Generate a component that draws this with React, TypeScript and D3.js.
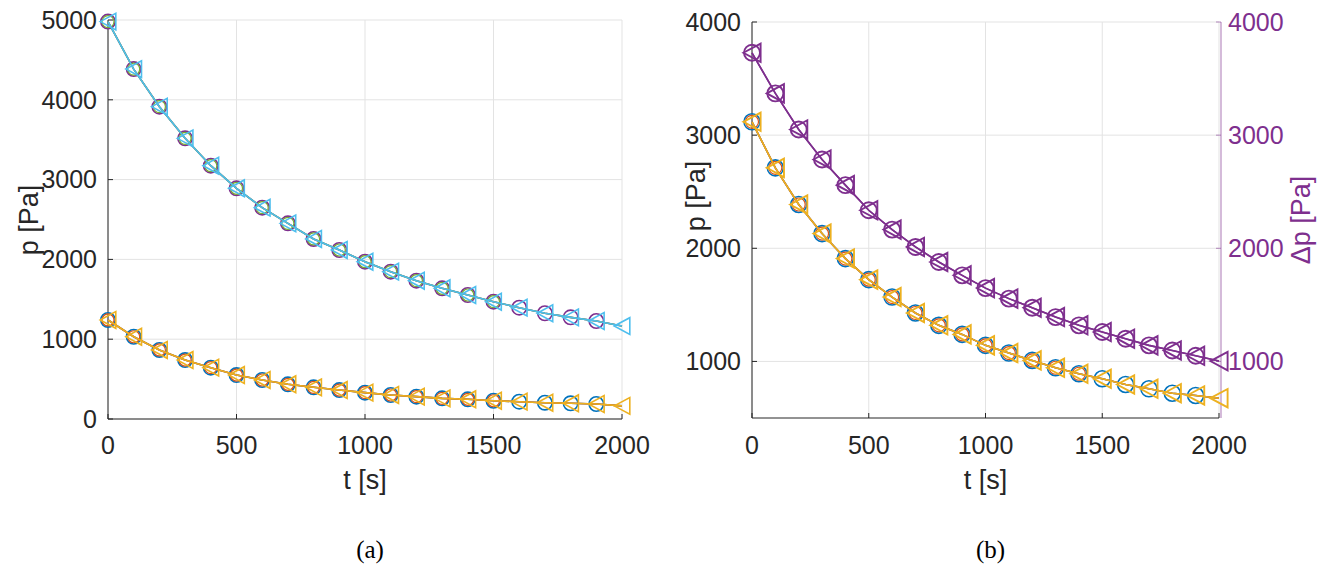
import React from "react";
import * as d3 from "d3";

// ---- data ----
const tTri = [0, 100, 200, 300, 400, 500, 600, 700, 800, 900, 1000, 1100, 1200, 1300, 1400, 1500, 1600, 1700, 1800, 1900, 2000];

// panel (a) upper group
const aUpper = [4980, 4385, 3914, 3517, 3174, 2891, 2648, 2452, 2256, 2118, 1971, 1846, 1733, 1638, 1554, 1470, 1395, 1325, 1274, 1228, 1165];
// panel (a) lower group
const aLower = [1241, 1031, 865, 739, 643, 551, 489, 435, 397, 363, 330, 301, 280, 259, 247, 229, 217, 204, 197, 188, 165];
// panel (b) purple (Δp)
const bDelta = [3728, 3369, 3050, 2785, 2558, 2336, 2165, 2012, 1879, 1761, 1648, 1555, 1475, 1392, 1319, 1260, 1201, 1142, 1097, 1050, 1003];
// panel (b) yellow (p)
const bP = [3118, 2711, 2387, 2130, 1909, 1723, 1569, 1428, 1319, 1239, 1142, 1074, 1009, 944, 891, 847, 796, 758, 719, 699, 675];

const xTicks = [0, 500, 1000, 1500, 2000];
const aYTicks = [0, 1000, 2000, 3000, 4000, 5000];
const bYTicks = [1000, 2000, 3000, 4000];
const captions = ["(a)", "(b)"];

const C = {
  blue: "#0072BD",
  orange: "#D95319",
  yellow: "#EDB120",
  purple: "#7E2F8E",
  green: "#77AC30",
  cyan: "#4DBEEE",
  axis: "#262626",
  grid: "#e3e3e3",
};

const FONT = "Liberation Sans, Arial, Helvetica, sans-serif";

function triPath(x: number, y: number, s: number) {
  return `M${x - s},${y} L${x + s},${y - s * 1.07} L${x + s},${y + s * 1.07} Z`;
}

type Series = {
  vals: number[];
  color: string;
  marker: "circle" | "tri";
  upTo?: number;
  r?: number;
  sw?: number;
};

function drawSeries(s: Series, x: d3.ScaleLinear<number, number>, y: d3.ScaleLinear<number, number>, key: string, ms: number) {
  const pts = tTri.map((t, i) => [t, s.vals[i]] as [number, number]);
  const line = d3.line<[number, number]>().x((d) => x(d[0])).y((d) => y(d[1]));
  const mPts = pts.filter((p) => p[0] <= (s.upTo ?? 2000));
  const sw = s.sw ?? 1.6;
  return (
    <g key={key}>
      <path d={line(pts) || ""} fill="none" stroke={s.color} strokeWidth={1.6} />
      {s.marker === "circle" &&
        mPts.map((p, i) => (
          <circle key={i} cx={x(p[0])} cy={y(p[1])} r={s.r ?? ms} fill="none" stroke={s.color} strokeWidth={sw} />
        ))}
      {s.marker === "tri" &&
        mPts.map((p, i) => (
          <path key={i} d={triPath(x(p[0]), y(p[1]), ms + 0.6)} fill="none" stroke={s.color} strokeWidth={sw} />
        ))}
    </g>
  );
}

function Panel(props: {
  x: d3.ScaleLinear<number, number>;
  y: d3.ScaleLinear<number, number>;
  yTicks: number[];
  series: Series[];
  ylabelX: number;
  ylabelY: number;
  caption: string;
  ms: number;
  rightAxis?: { ticks: number[]; color: string; label: string; labelX: number };
}) {
  const { x, y, yTicks, series } = props;
  const [x0, x1] = x.range();
  const [yb, yt] = y.range();
  const ymid = (yb + yt) / 2;
  const xmid = (x0 + x1) / 2;
  return (
    <g>
      {xTicks.map((t) => (
        <line key={"gx" + t} x1={x(t)} x2={x(t)} y1={yb} y2={yt} stroke={C.grid} strokeWidth={1} />
      ))}
      {yTicks.map((t) => (
        <line key={"gy" + t} x1={x0} x2={x1} y1={y(t)} y2={y(t)} stroke={C.grid} strokeWidth={1} />
      ))}
      <line x1={x0} x2={x1} y1={yb} y2={yb} stroke={C.axis} strokeWidth={1} />
      <line x1={x0} x2={x0} y1={yb} y2={yt} stroke={C.axis} strokeWidth={1} />
      {xTicks.map((t) => (
        <line key={"tx" + t} x1={x(t)} x2={x(t)} y1={yb} y2={yb - 5} stroke={C.axis} strokeWidth={1} />
      ))}
      {yTicks.map((t) => (
        <line key={"ty" + t} x1={x0} x2={x0 + 5} y1={y(t)} y2={y(t)} stroke={C.axis} strokeWidth={1} />
      ))}
      {props.rightAxis && (
        <g>
          <line x1={x1 + 2} x2={x1 + 2} y1={yb} y2={yt} stroke={props.rightAxis.color} strokeOpacity={0.55} strokeWidth={1.2} />
          {props.rightAxis.ticks.map((t) => (
            <line key={"rt" + t} x1={x1 + 2} x2={x1 - 3} y1={y(t)} y2={y(t)} stroke={props.rightAxis!.color} strokeOpacity={0.55} strokeWidth={1} />
          ))}
          {props.rightAxis.ticks.map((t) => (
            <text key={"rl" + t} x={x1 + 9} y={y(t)} dy="0.35em" fontSize={25} fontFamily={FONT} fill={props.rightAxis!.color} textAnchor="start">
              {t}
            </text>
          ))}
          <text
            transform={`translate(${props.rightAxis.labelX},${ymid}) rotate(-90)`}
            fontSize={27}
            fontFamily={FONT}
            fill={props.rightAxis.color}
            textAnchor="middle"
          >
            {props.rightAxis.label}
          </text>
        </g>
      )}
      {xTicks.map((t) => (
        <text key={"lx" + t} x={x(t)} y={454} fontSize={25} fontFamily={FONT} fill={C.axis} textAnchor="middle">
          {t}
        </text>
      ))}
      {yTicks.map((t) => (
        <text key={"ly" + t} x={x0 - 11} y={y(t)} dy="0.35em" fontSize={25} fontFamily={FONT} fill={C.axis} textAnchor="end">
          {t}
        </text>
      ))}
      <text x={xmid} y={489} fontSize={27} fontFamily={FONT} fill={C.axis} textAnchor="middle">
        t [s]
      </text>
      <text transform={`translate(${props.ylabelX},${props.ylabelY}) rotate(-90)`} fontSize={27} fontFamily={FONT} fill={C.axis} textAnchor="middle">
        p [Pa]
      </text>
      <text x={xmid + 5} y={558} fontSize={25} fontFamily="Liberation Serif, Times New Roman, serif" fill="#000" textAnchor="middle">
        {props.caption}
      </text>
      <g>{series.map((s, i) => drawSeries(s, x, y, "s" + i, props.ms))}</g>
    </g>
  );
}

export default function App() {
  const xa = d3.scaleLinear().domain([0, 2000]).range([108, 622]);
  const ya = d3.scaleLinear().domain([0, 5000]).range([419, 20]);
  const xb = d3.scaleLinear().domain([0, 2000]).range([752, 1219]);
  const yb = d3.scaleLinear().domain([500, 4000]).range([418, 22]);

  const aSeries: Series[] = [
    { vals: aLower, color: C.blue, marker: "circle", upTo: 1900 },
    { vals: aLower, color: C.orange, marker: "circle", upTo: 1500, r: 6, sw: 1.2 },
    { vals: aLower, color: C.yellow, marker: "tri" },
    { vals: aUpper, color: C.purple, marker: "circle", upTo: 1900 },
    { vals: aUpper, color: C.green, marker: "circle", upTo: 1500, r: 6, sw: 1.2 },
    { vals: aUpper, color: C.cyan, marker: "tri" },
  ];
  const bSeries: Series[] = [
    { vals: bP, color: C.blue, marker: "circle", upTo: 1900 },
    { vals: bP, color: C.orange, marker: "circle", upTo: 1400, r: 6.5, sw: 1.2 },
    { vals: bP, color: C.yellow, marker: "tri", sw: 1.9 },
    { vals: bDelta, color: C.purple, marker: "circle", upTo: 1900, sw: 1.9 },
    { vals: bDelta, color: C.purple, marker: "tri", sw: 1.9 },
  ];

  return (
    <svg width={1338} height={564} style={{ position: "absolute", left: 0, top: 0, background: "#fff" }}>
      <rect width={1338} height={564} fill="#fff" />
      <Panel x={xa} y={ya} yTicks={aYTicks} series={aSeries} ylabelX={38} ylabelY={220} ms={7.2} caption={captions[0]} />
      <Panel
        x={xb}
        y={yb}
        yTicks={bYTicks}
        series={bSeries}
        ylabelX={705}
        ylabelY={196}
        ms={8}
        caption={captions[1]}
        rightAxis={{ ticks: bYTicks, color: C.purple, label: "Δp [Pa]", labelX: 1310 }}
      />
    </svg>
  );
}
